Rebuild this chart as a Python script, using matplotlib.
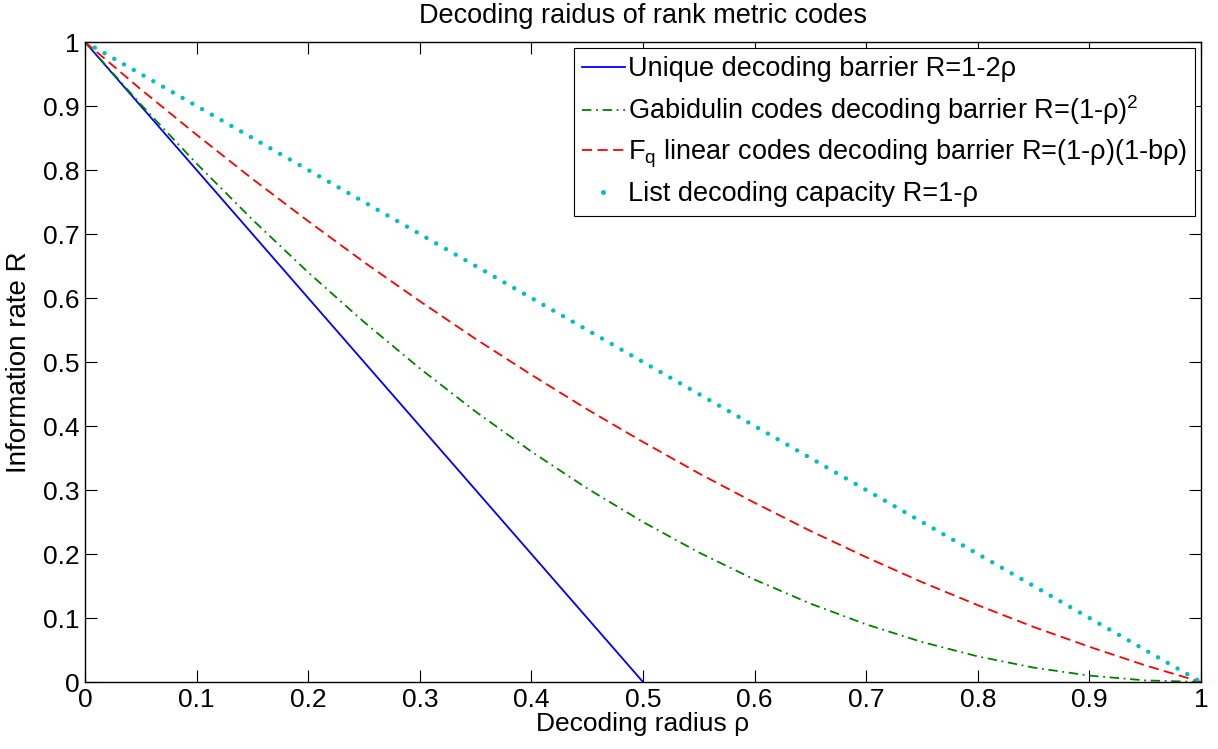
import matplotlib
matplotlib.use("Agg")
import matplotlib.pyplot as plt
from matplotlib.lines import Line2D

plt.rcParams['font.family'] = ['Liberation Sans', 'DejaVu Sans']
plt.rcParams['mathtext.fontset'] = 'custom'
plt.rcParams['mathtext.rm'] = 'Liberation Sans'

# ---- data ----
rho_unique = [0.0, 0.1, 0.2, 0.3, 0.4, 0.5]
R_unique = [1.0, 0.8, 0.6, 0.4, 0.2, 0.0]

rho_curve = [0.0, 0.05, 0.1, 0.15, 0.2, 0.25, 0.3, 0.35, 0.4, 0.45, 0.5,
             0.55, 0.6, 0.65, 0.7, 0.75, 0.8, 0.85, 0.9, 0.95, 1.0]
R_gabidulin = [1.0, 0.9025, 0.81, 0.7225, 0.64, 0.5625, 0.49, 0.4225, 0.36, 0.3025, 0.25,
               0.2025, 0.16, 0.1225, 0.09, 0.0625, 0.04, 0.0225, 0.01, 0.0025, 0.0]
R_fq = [1.0, 0.926, 0.855, 0.786, 0.72, 0.656, 0.595, 0.536, 0.48, 0.426, 0.375,
        0.326, 0.28, 0.236, 0.195, 0.156, 0.12, 0.086, 0.055, 0.026, 0.0]

rho_list = [0.0, 0.1, 0.2, 0.3, 0.4, 0.5, 0.6, 0.7, 0.8, 0.9, 1.0]
R_list = [1.0, 0.9, 0.8, 0.7, 0.6, 0.5, 0.4, 0.3, 0.2, 0.1, 0.0]

tick_values = [0.0, 0.1, 0.2, 0.3, 0.4, 0.5, 0.6, 0.7, 0.8, 0.9, 1.0]
tick_labels = ['0', '0.1', '0.2', '0.3', '0.4', '0.5', '0.6', '0.7', '0.8', '0.9', '1']

labels = [
    'Unique decoding barrier R=1-2\u03c1',
    'Gabidulin codes decoding barrier R=(1-\u03c1)$^\\mathregular{2}$',
    'F$_\\mathregular{q}$ linear codes decoding barrier R=(1-\u03c1)(1-b\u03c1)',
    'List decoding capacity R=1-\u03c1',
]
title = 'Decoding raidus of rank metric codes'
xlabel = 'Decoding radius \u03c1'
ylabel = 'Information rate R'

c_blue = (0, 0, 1)
c_green = (0, 0.5, 0)
c_red = (1, 0, 0)
c_cyan = (0, 0.75, 0.75)

fig = plt.figure(figsize=(12.18, 7.49), dpi=100)
ax = fig.add_axes([85 / 1218, 1 - 682 / 749, (1201 - 85) / 1218, (682 - 42) / 749])

ax.plot(rho_unique, R_unique, color=c_blue, lw=1.3, linestyle='-')
ax.plot(rho_curve, R_gabidulin, color=c_green, lw=1.3, linestyle=(0, (5.2, 2.6, 1, 2.6)))
ax.plot(rho_curve, R_fq, color=c_red, lw=1.3, linestyle=(0, (5.6, 3.0)))
ax.plot(rho_list, R_list, color=c_cyan, lw=3.2, linestyle=(0, (0.01, 2.52)),
        dash_capstyle='round')

ax.set_xlim(0, 1)
ax.set_ylim(0, 1)
ax.set_xticks(tick_values)
ax.set_xticklabels(tick_labels)
ax.set_yticks(tick_values)
ax.set_yticklabels(tick_labels)
ax.tick_params(direction='in', length=8.5, width=0.8, top=True, right=True,
               labelsize=19, pad=4)
for s in ax.spines.values():
    s.set_linewidth(1.0)

ax.set_title(title, fontsize=19.5, pad=14)
ax.set_xlabel(xlabel, fontsize=19, labelpad=0)
ax.set_ylabel(ylabel, fontsize=20, labelpad=8)

handles = [
    Line2D([], [], color=c_blue, lw=1.3, linestyle='-'),
    Line2D([], [], color=c_green, lw=1.3, linestyle=(0, (5.2, 2.6, 1, 2.6))),
    Line2D([], [], color=c_red, lw=1.3, linestyle=(0, (5.6, 3.0))),
    Line2D([], [], color=c_cyan, lw=0, marker='.', markersize=5),
]
leg = ax.legend(handles, labels, loc='upper right', fontsize=19.5, frameon=True,
                fancybox=False, framealpha=1, edgecolor='black', borderaxespad=0.22,
                handlelength=1.6, handletextpad=0.1, labelspacing=0.41,
                borderpad=0.3)
leg.get_frame().set_linewidth(0.8)

fig.savefig('out.png', dpi=100)
